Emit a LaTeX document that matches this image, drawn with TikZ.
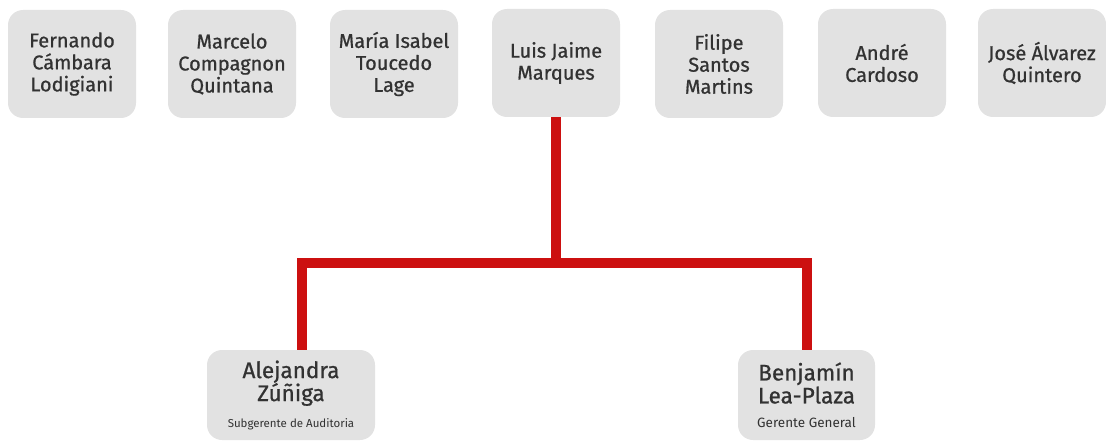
\documentclass[tikz,border=0pt]{standalone}
\usepackage{fontspec}
\setmainfont{Fira Sans}
\newfontfamily\namefont[FakeBold=0.8]{Fira Sans}
\definecolor{boxgray}{RGB}{226,226,226}
\definecolor{txtgray}{RGB}{50,50,50}
\definecolor{linered}{RGB}{204,16,16}
\begin{document}
\begin{tikzpicture}[x=1pt,y=-1pt,
  topbox/.style={rectangle, rounded corners=15pt, fill=boxgray, minimum width=128pt, minimum height=108pt, inner sep=0pt, align=center, text=txtgray, font=\namefont\fontsize{20}{22}\selectfont},
  botbox/.style={rectangle, rounded corners=15pt, fill=boxgray, minimum height=90pt, inner sep=0pt, align=center, text=txtgray, font=\namefont\fontsize{22.5}{23}\selectfont},
  redline/.style={draw=linered, line width=10pt, line join=miter}]
\useasboundingbox (0,0) rectangle (1106,441);
\node[topbox] (fer) at (72,64) {Fernando\\Cámbara\\Lodigiani};
\node[topbox] (mar) at (232,64) {Marcelo\\Compagnon\\Quintana};
\node[topbox] (mai) at (394,64) {María Isabel\\Toucedo\\Lage};
\node[topbox] (lui) at (556,63) {Luis Jaime\\Marques};
\node[topbox] (fil) at (719,64) {Filipe\\Santos\\Martins};
\node[topbox] (and) at (882,63) {André\\Cardoso};
\node[topbox] (jos) at (1042,63) {José Álvarez\\Quintero};
\node[botbox, minimum width=168pt] (ale) at (291,395) {Alejandra\\Zúñiga\\[3pt]{\rmfamily\fontsize{11.5}{12}\selectfont Subgerente de Auditoria}};
\node[botbox, minimum width=137pt] (ben) at (806.5,395) {Benjamín\\Lea-Plaza\\[1pt]{\rmfamily\fontsize{13.5}{14}\selectfont Gerente General}};
\coordinate (j) at (556,263);
\coordinate (lc) at (302,263);
\coordinate (rc) at (807,263);
\draw[redline] (lui.south) -- (j);
\draw[redline] (lc |- ale.north) -- (lc) -- (rc) -- (rc |- ben.north);
\end{tikzpicture}
\end{document}
